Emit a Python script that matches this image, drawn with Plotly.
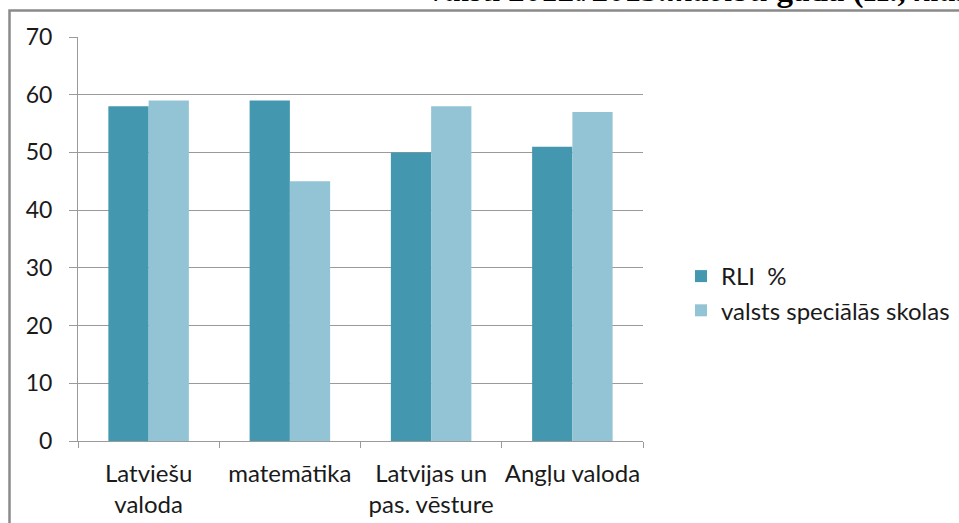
import plotly.graph_objects as go

categories = ["Latviešu<br>valoda", "matemātika", "Latvijas un<br>pas. vēsture", "Angļu valoda"]
rli_values = [58, 59, 50, 51]
valsts_values = [59, 45, 58, 57]
series_names = ["RLI  %", "valsts speciālās skolas"]
y_ticks = [0, 10, 20, 30, 40, 50, 60, 70]

W, H = 959, 523
L, R, T, B = 78, 643, 37, 441

def px(x):
    return (x - L) / (R - L)

def py(y):
    return (B - y) / (B - T)

fig = go.Figure()
fig.add_trace(go.Bar(x=categories, y=rli_values, name=series_names[0],
                     marker=dict(color="#4398AF", line=dict(width=0)), legendgroup="a"))
fig.add_trace(go.Bar(x=categories, y=valsts_values, name=series_names[1],
                     marker=dict(color="#93C4D6", line=dict(width=0)), legendgroup="b"))

font_family = "Lato, Open Sans, sans-serif"
grid = "#9a9a9a"

fig.update_layout(
    width=W, height=H,
    margin=dict(l=L, r=W - R, t=T, b=H - B, pad=0, autoexpand=False),
    plot_bgcolor="white", paper_bgcolor="white",
    barmode="group", bargap=0.43, bargroupgap=0,
    font=dict(family=font_family, size=24, color="#1a1a1a"),
    showlegend=True,
    legend=dict(x=px(681), y=py(254), xanchor="left", yanchor="top",
                font=dict(size=24, color="#1a1a1a"), tracegroupgap=35,
                traceorder="normal", itemwidth=30, bgcolor="rgba(0,0,0,0)"),
    xaxis=dict(showgrid=False, showline=True, linecolor=grid, linewidth=1,
               ticks="outside", tickson="boundaries", ticklen=6, tickcolor=grid,
               tickangle=0, automargin=False,
               tickfont=dict(size=24, color="#1a1a1a"), ticklabelstandoff=11),
    yaxis=dict(range=[0, 70], tickvals=y_ticks, showgrid=True, gridcolor=grid,
               gridwidth=1, showline=True, linecolor=grid, linewidth=1,
               ticks="outside", ticklen=8, tickcolor=grid, zeroline=False,
               automargin=False,
               tickfont=dict(size=23, color="#1a1a1a"), ticklabelstandoff=12),
)

fig.add_shape(type="rect", xref="paper", yref="paper",
              x0=px(9.5), y0=py(10.5), x1=px(990), y1=py(560),
              line=dict(color="#8a8a8a", width=2.5), fillcolor="rgba(0,0,0,0)", layer="above")

fig.add_annotation(xref="paper", yref="paper", x=px(428), y=py(11),
                   xanchor="left", yanchor="bottom", showarrow=False,
                   text="<b><i>valsti 2012./2013.mācību</i> gadā (II., <i>klas</i></b>",
                   font=dict(family="Liberation Serif, serif", size=33, color="#000"))

fig.write_html("out.html", config={"displayModeBar": False},
               post_script="document.body.style.margin='0';")
